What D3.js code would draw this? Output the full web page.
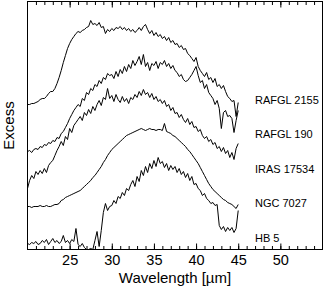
<!DOCTYPE html>
<html>
<head>
<meta charset="utf-8">
<script src="https://cdn.jsdelivr.net/npm/d3@7"></script>
<style>
  body { margin: 0; background: #fff; }
  svg { display: block; font-family: "Liberation Sans", Arial, Helvetica, sans-serif; }
  .axis path.domain { display: none; }
  .axis line { stroke: #000; }
  .axis text { font-size: 14.5px; fill: #000; }
  .curve { fill: none; stroke: #000; stroke-width: 1; }
  .name { font-size: 11px; fill: #000; }
  .axis-title { font-size: 15px; fill: #000; }
</style>
</head>
<body>
<svg id="chart" width="323" height="291"></svg>
<script>
// wavelength grid of the spectra (micron), one sample every 0.25
const wlStart = 20, wlEnd = 45, wlStep = 0.25;

const names = ["RAFGL 2155", "RAFGL 190", "IRAS 17534", "NGC 7027", "HB 5"];

// excess, arbitrary units (spectra are offset vertically), rows of 2 micron
const rafgl2155 = [
  145,145,146,146,147,148,150,151,
  151,153,156,158,158,161,166,172,
  179,187,194,201,206,210,213,216,
  218,217,219,220,222,223,229,225,
  226,224,227,222,223,216,220,218,
  221,219,222,221,223,220,222,219,
  221,218,220,217,219,222,219,223,
  225,220,216,219,214,217,213,215,
  211,213,209,212,207,209,205,206,
  202,204,200,201,196,194,191,188,
  192,183,179,176,173,177,170,172,
  167,171,163,165,161,164,158,153,
  151,148,149,133,147
];
const rafgl190 = [
  98,99,97,100,101,100,103,102,
  105,104,107,106,109,108,112,111,
  116,118,122,126,131,135,139,142,
  145,143,151,149,157,155,161,159,
  165,163,169,166,172,170,176,174,
  175,171,178,173,180,176,183,178,
  185,181,189,184,188,193,185,195,
  183,187,179,186,184,188,181,187,
  185,189,183,186,181,184,179,177,
  173,175,170,168,169,172,175,179,
  183,174,167,169,161,165,157,154,
  151,145,149,141,121,137,139,133,
  134,131,117,129,139
];
const iras17534 = [
  61,69,74,71,78,75,79,76,
  81,77,84,87,89,94,99,103,
  108,104,113,110,121,117,124,127,
  130,133,129,137,134,140,136,143,
  139,145,149,144,152,150,161,151,
  154,148,155,150,147,153,148,151,
  146,152,150,155,152,158,154,160,
  155,157,152,156,150,153,148,150,
  146,149,143,145,139,142,136,137,
  132,135,130,127,131,125,128,122,
  123,118,120,114,111,113,108,110,
  105,107,101,103,98,102,96,99,
  92,97,90,101,106
];
const ngc7027 = [
  43,43,42,43,43,43,44,43,
  43,44,43,43,44,45,45,46,
  49,50,52,53,54,55,56,57,
  58,59,61,63,65,67,69,72,
  74,77,80,83,87,90,94,97,
  100,102,104,106,108,110,112,114,
  115,116,117,118,119,120,121,120,
  119,120,121,120,120,119,120,120,
  119,126,118,117,116,114,113,111,
  109,107,105,103,100,98,95,92,
  89,86,82,78,74,70,66,63,
  60,58,56,54,52,50,49,47,
  46,45,43,41,45
];
const hb5 = [
  6,5,7,6,8,5,6,9,
  7,10,5,8,11,7,9,6,
  8,14,7,9,6,10,8,21,
  5,3,6,2,0,0,1,0,
  9,18,3,19,37,46,39,43,
  44,49,46,53,51,57,54,61,
  59,65,69,63,73,68,79,74,
  83,77,86,81,89,83,92,86,
  88,82,86,79,84,80,83,77,
  81,75,78,72,76,69,73,65,
  66,61,59,54,56,51,49,46,
  47,44,45,24,20,23,18,22,
  19,22,17,21,39
];
const seriesValues = [rafgl2155, rafgl190, iras17534, ngc7027, hb5];

const majorTicks = [25, 30, 35, 40, 45, 50];
const minorTicks = d3.range(21, 55);

const svg = d3.select("#chart");
const margin = { top: 1.5, right: 0.5, bottom: 41.5, left: 27.5 };
const width = +svg.attr("width") - margin.left - margin.right;
const height = +svg.attr("height") - margin.top - margin.bottom;
const g = svg.append("g")
  .attr("transform", "translate(" + margin.left + "," + margin.top + ")");

const wavelengths = d3.range(wlStart, wlEnd + wlStep / 2, wlStep);

const x = d3.scaleLinear().domain([20, 55]).range([0, width]);
const y = d3.scaleLinear().domain([0, 248]).range([height, 0]);

// ticks point inward, bottom and top
g.append("g")
  .attr("class", "axis")
  .attr("transform", "translate(0," + height + ")")
  .call(d3.axisBottom(x).tickValues(minorTicks).tickSize(-3.5).tickFormat(""));
g.append("g")
  .attr("class", "axis")
  .attr("transform", "translate(0," + height + ")")
  .call(d3.axisBottom(x).tickValues(majorTicks).tickSize(-6).tickPadding(5.5).tickFormat(d3.format("d")));
g.append("g")
  .attr("class", "axis")
  .call(d3.axisTop(x).tickValues(minorTicks).tickSize(-3.5).tickFormat(""));
g.append("g")
  .attr("class", "axis")
  .call(d3.axisTop(x).tickValues(majorTicks).tickSize(-6).tickFormat(""));

const line = d3.line()
  .x((d, i) => x(wavelengths[i]))
  .y(d => y(d));

g.selectAll(".curve")
  .data(seriesValues)
  .enter().append("path")
  .attr("class", "curve")
  .attr("d", line);

g.append("rect")
  .attr("width", width)
  .attr("height", height)
  .attr("fill", "none")
  .attr("stroke", "#000");

g.selectAll(".name")
  .data(names)
  .enter().append("text")
  .attr("class", "name")
  .attr("x", 227.5)
  .attr("y", (d, i) => 98.5 + i * 34.5)
  .attr("dy", "0.35em")
  .text(d => d);

svg.append("text")
  .attr("class", "axis-title")
  .attr("x", margin.left + width / 2)
  .attr("y", 283)
  .attr("text-anchor", "middle")
  .text("Wavelength [\u00b5m]");

svg.append("text")
  .attr("class", "axis-title")
  .attr("transform", "translate(14," + (margin.top + height / 2) + ") rotate(-90)")
  .attr("text-anchor", "middle")
  .text("Excess");
</script>
</body>
</html>
